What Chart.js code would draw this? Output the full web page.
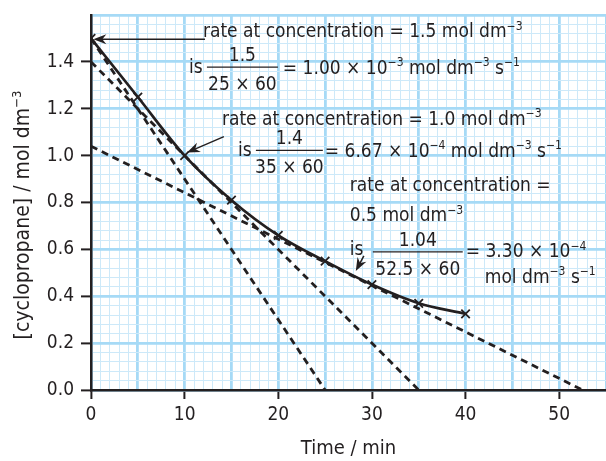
<!DOCTYPE html>
<html>
<head>
<meta charset="utf-8">
<script src="https://cdn.jsdelivr.net/npm/chart.js@4/dist/chart.umd.min.js"></script>
<style>
  body { margin: 0; background: #fff; }
  canvas { display: block; }
</style>
</head>
<body>
<canvas id="rateChart" width="606" height="461"></canvas>
<script>
// measured points on the curve
const times = [0, 5, 10, 15, 20, 25, 30, 35, 40];
const concentrations = [1.5, 1.25, 1.0, 0.81, 0.66, 0.55, 0.45, 0.37, 0.325];

// tangent lines (start and end)
const tangent1Times = [0, 25];
const tangent1Conc = [1.5, 0];
const tangent2Times = [0, 35];
const tangent2Conc = [1.4, 0];
const tangent3Times = [0, 52.5];
const tangent3Conc = [1.04, 0];

const xTickLabels = [0, 10, 20, 30, 40, 50];
const yTickLabels = ['0.0', '0.2', '0.4', '0.6', '0.8', '1.0', '1.2', '1.4'];

const FONT = "'DejaVu Sans Condensed', 'Liberation Sans Narrow', sans-serif";
const INK = '#231f20';
const MAJOR = '#a6daf6';
const MINOR = '#cde9f9';

function toPoints(xs, ys) {
  return xs.map((x, i) => ({ x: x, y: ys[i] }));
}

function tangent(xs, ys) {
  return {
    data: toPoints(xs, ys),
    showLine: true,
    borderColor: INK,
    borderWidth: 2.8,
    borderDash: [7, 5],
    pointRadius: 0
  };
}

// annotation text, positions in data units (minutes, mol dm-3)
const notes = [
  { type: 'text', x: 11.95, y: 1.505, parts: ['rate at concentration = 1.5 mol dm', '^\u22123'] },
  { type: 'text', x: 10.46, y: 1.353, parts: ['is'] },
  { type: 'frac', x1: 12.38, x2: 19.96, y: 1.378, num: '1.5', den: '25 \u00d7 60' },
  { type: 'text', x: 20.49, y: 1.349, parts: ['= 1.00 \u00d7 10', '^\u22123', ' mol dm', '^\u22123', ' s', '^\u22121'] },
  { type: 'arrow', x1: 12.17, y1: 1.497, x2: 0.25, y2: 1.497 },

  { type: 'text', x: 13.98, y: 1.132, parts: ['rate at concentration = 1.0 mol dm', '^\u22123'] },
  { type: 'text', x: 15.69, y: 1.0, parts: ['is'] },
  { type: 'frac', x1: 17.61, x2: 24.76, y: 1.022, num: '1.4', den: '35 \u00d7 60' },
  { type: 'text', x: 24.97, y: 0.996, parts: ['= 6.67 \u00d7 10', '^\u22124', ' mol dm', '^\u22123', ' s', '^\u22121'] },
  { type: 'arrow', x1: 14.19, y1: 1.081, x2: 10.25, y2: 1.013 },

  { type: 'text', x: 27.64, y: 0.848, parts: ['rate at concentration ='] },
  { type: 'text', x: 27.64, y: 0.720, parts: ['0.5 mol dm', '^\u22123'] },
  { type: 'text', x: 27.64, y: 0.576, parts: ['is'] },
  { type: 'frac', x1: 30.1, x2: 39.7, y: 0.589, num: '1.04', den: '52.5 \u00d7 60' },
  { type: 'text', x: 40.02, y: 0.567, parts: ['= 3.30 \u00d7 10', '^\u22124'] },
  { type: 'text', x: 42.05, y: 0.457, parts: ['mol dm', '^\u22123', ' s', '^\u22121'] },
  { type: 'arrow', x1: 29.14, y1: 0.572, x2: 28.28, y2: 0.508 }
];

const yTitleParts = ['[cyclopropane] / mol dm', '^\u22123'];

function partsWidth(ctx, parts, size) {
  let w = 0;
  parts.forEach(p => {
    const sup = p.startsWith('^');
    ctx.font = (sup ? Math.round(size * 0.62) : size) + 'px ' + FONT;
    w += ctx.measureText(sup ? p.slice(1) : p).width;
  });
  return w;
}

function drawParts(ctx, x, y, parts, size) {
  let cx = x;
  parts.forEach(p => {
    const sup = p.startsWith('^');
    const t = sup ? p.slice(1) : p;
    ctx.font = (sup ? Math.round(size * 0.62) : size) + 'px ' + FONT;
    ctx.fillText(t, cx, sup ? y - size * 0.4 : y);
    cx += ctx.measureText(t).width;
  });
}

const notesPlugin = {
  id: 'notes',
  afterDatasetsDraw(chart) {
    const ctx = chart.ctx;
    const xs = chart.scales.x, ys = chart.scales.y;
    const size = 19;
    ctx.save();
    ctx.fillStyle = INK;
    ctx.strokeStyle = INK;
    ctx.textBaseline = 'alphabetic';
    notes.forEach(n => {
      if (n.type === 'text') {
        ctx.textAlign = 'left';
        drawParts(ctx, xs.getPixelForValue(n.x), ys.getPixelForValue(n.y), n.parts, size);
      } else if (n.type === 'frac') {
        const a = xs.getPixelForValue(n.x1), b = xs.getPixelForValue(n.x2);
        const y = ys.getPixelForValue(n.y);
        ctx.lineWidth = 1.2;
        ctx.beginPath();
        ctx.moveTo(a, y);
        ctx.lineTo(b, y);
        ctx.stroke();
        ctx.textAlign = 'center';
        ctx.font = size + 'px ' + FONT;
        ctx.fillText(n.num, (a + b) / 2, y - 6);
        ctx.fillText(n.den, (a + b) / 2, y + 23);
      } else if (n.type === 'arrow') {
        const x1 = xs.getPixelForValue(n.x1), y1 = ys.getPixelForValue(n.y1);
        const x2 = xs.getPixelForValue(n.x2), y2 = ys.getPixelForValue(n.y2);
        const ang = Math.atan2(y2 - y1, x2 - x1);
        const c = Math.cos(ang), s = Math.sin(ang);
        ctx.lineWidth = 1.5;
        ctx.beginPath();
        ctx.moveTo(x1, y1);
        ctx.lineTo(x2 - 8 * c, y2 - 8 * s);
        ctx.stroke();
        ctx.beginPath();
        ctx.moveTo(x2, y2);
        ctx.lineTo(x2 - 13 * c + 5 * s, y2 - 13 * s - 5 * c);
        ctx.lineTo(x2 - 9 * c, y2 - 9 * s);
        ctx.lineTo(x2 - 13 * c - 5 * s, y2 - 13 * s + 5 * c);
        ctx.closePath();
        ctx.fill();
      }
    });

    // y axis title, rotated
    const tsize = 21;
    const w = partsWidth(ctx, yTitleParts, tsize);
    ctx.translate(29, 215);
    ctx.rotate(-Math.PI / 2);
    ctx.textAlign = 'left';
    drawParts(ctx, -w / 2, 0, yTitleParts, tsize);
    ctx.restore();
  }
};

const isXMajor = v => Math.round(v) % 5 === 0;
const yKey = v => Math.round(v * 100);

new Chart(document.getElementById('rateChart').getContext('2d'), {
  type: 'scatter',
  data: {
    datasets: [
      tangent(tangent1Times, tangent1Conc),
      tangent(tangent2Times, tangent2Conc),
      tangent(tangent3Times, tangent3Conc),
      {
        data: toPoints(times, concentrations),
        showLine: true,
        borderColor: INK,
        borderWidth: 2.7,
        cubicInterpolationMode: 'monotone',
        pointStyle: 'crossRot',
        pointRadius: 6,
        pointBorderWidth: 1.8,
        pointBorderColor: INK
      }
    ]
  },
  options: {
    responsive: false,
    animation: false,
    layout: { autoPadding: false, padding: { top: 15, right: 0, left: 0, bottom: 0 } },
    plugins: { legend: { display: false }, tooltip: { enabled: false } },
    scales: {
      x: {
        type: 'linear',
        min: 0,
        max: 55,
        afterFit(s) { s.height = 71; s.paddingLeft = 0; s.paddingRight = 0; },
        ticks: {
          stepSize: 1,
          autoSkip: false,
          maxRotation: 0,
          padding: 5,
          color: INK,
          font: { family: FONT, size: 19 },
          callback: v => xTickLabels.includes(v) ? String(v) : ''
        },
        grid: {
          color: c => isXMajor(c.tick.value) ? MAJOR : MINOR,
          lineWidth: c => isXMajor(c.tick.value) ? 2.8 : 1,
          tickColor: c => xTickLabels.includes(c.tick.value) ? INK : 'rgba(0,0,0,0)',
          tickLength: 9,
          tickWidth: 2
        },
        border: { color: INK, width: 2.5 },
        title: {
          display: true,
          text: 'Time / min',
          color: INK,
          font: { family: FONT, size: 20 },
          padding: { top: 0, bottom: 0 }
        }
      },
      y: {
        min: 0,
        max: 1.6,
        afterFit(s) { s.width = 91; s.paddingTop = 0; s.paddingBottom = 0; },
        ticks: {
          stepSize: 0.04,
          autoSkip: false,
          padding: 7,
          color: INK,
          font: { family: FONT, size: 19 },
          callback: v => {
            const k = yKey(v);
            return k % 20 === 0 && k / 20 < yTickLabels.length ? yTickLabels[k / 20] : '';
          }
        },
        grid: {
          color: c => yKey(c.tick.value) % 20 === 0 ? MAJOR : MINOR,
          lineWidth: c => yKey(c.tick.value) % 20 === 0 ? 2.8 : 1,
          tickColor: c => {
            const k = yKey(c.tick.value);
            return k % 20 === 0 && k < 160 ? INK : 'rgba(0,0,0,0)';
          },
          tickLength: 10,
          tickWidth: 2
        },
        border: { color: INK, width: 2.5 }
      }
    }
  },
  plugins: [notesPlugin]
});
</script>
</body>
</html>
